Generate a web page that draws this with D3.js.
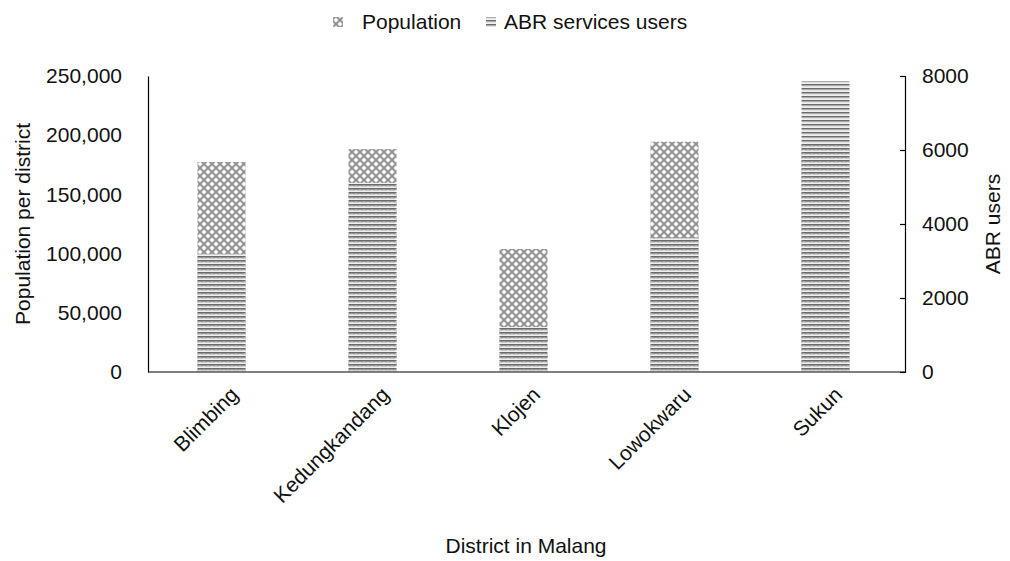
<!DOCTYPE html>
<html>
<head>
<meta charset="utf-8">
<script src="https://cdn.jsdelivr.net/npm/d3@7"></script>
<style>
  body { margin: 0; background: #fff; }
  svg { display: block; }
  text { font-family: "Liberation Sans", Arial, sans-serif; fill: #111; }
</style>
</head>
<body>
<svg id="chart" width="1010" height="561"></svg>
<script>
// Districts of Malang city
const districts = ["Blimbing", "Kedungkandang", "Klojen", "Lowokwaru", "Sukun"];
// Residents per district (left axis)
const population = [177400, 188300, 103900, 194500, 192000];
// ABR service users per district (right axis)
const abrUsers = [3190, 5115, 1215, 3640, 7865];

const popTicks = [0, 50000, 100000, 150000, 200000, 250000];
const abrTicks = [0, 2000, 4000, 6000, 8000];

const svg = d3.select("#chart");
const margin = { left: 148, right: 105, top: 76, bottom: 189 };
const W = 1010, H = 561;
const plotRight = W - margin.right;
const plotBottom = H - margin.bottom;
const FONT = "'Liberation Sans', Arial, sans-serif";

// Fill patterns
const defs = svg.append("defs");
const dots = defs.append("pattern")
  .attr("id", "popPattern").attr("patternUnits", "userSpaceOnUse")
  .attr("width", 8).attr("height", 8);
dots.append("rect").attr("width", 8).attr("height", 8).attr("fill", "#c4c4c4");
dots.append("path").attr("d", "M0,0L8,8M8,0L0,8")
  .attr("stroke", "#8c8c8c").attr("stroke-width", 1.4);
[[4, 0], [4, 8], [0, 4], [8, 4]].forEach(([cx, cy]) =>
  dots.append("circle").attr("cx", cx).attr("cy", cy).attr("r", 1.7).attr("fill", "#fff"));

const stripes = defs.append("pattern")
  .attr("id", "abrPattern").attr("patternUnits", "userSpaceOnUse")
  .attr("width", 8).attr("height", 4);
[["#6a6a6a", 0, 1.5], ["#a4a4a4", 1.5, 1], ["#f0f0f0", 2.5, 1.5]].forEach(([c, y, h]) =>
  stripes.append("rect").attr("x", 0).attr("y", y).attr("width", 8).attr("height", h).attr("fill", c));

// Scales
const x = d3.scaleBand().domain(districts).range([margin.left - 2, plotRight - 4]);
const barW = 48;
const yPop = d3.scaleLinear().domain([0, 250000]).range([plotBottom, margin.top]);
const yAbr = d3.scaleLinear().domain([0, 8000]).range([plotBottom, margin.top]);

// Population bars (behind)
svg.append("g").selectAll("rect").data(districts).join("rect")
  .attr("x", d => x(d) + x.bandwidth() / 2 - barW / 2)
  .attr("width", barW)
  .attr("y", (d, i) => yPop(population[i]))
  .attr("height", (d, i) => plotBottom - yPop(population[i]))
  .attr("fill", "url(#popPattern)");

// ABR user bars (front)
svg.append("g").selectAll("rect").data(districts).join("rect")
  .attr("x", d => x(d) + x.bandwidth() / 2 - barW / 2)
  .attr("width", barW)
  .attr("y", (d, i) => yAbr(abrUsers[i]))
  .attr("height", (d, i) => plotBottom - yAbr(abrUsers[i]))
  .attr("fill", "url(#abrPattern)");

// Left axis
const gL = svg.append("g").attr("transform", `translate(${margin.left},0)`)
  .call(d3.axisLeft(yPop).tickValues(popTicks).tickFormat(d3.format(",")).tickSize(0).tickPadding(26));
gL.select(".domain").attr("stroke", "#000").attr("stroke-width", 1.2);
gL.selectAll("text").attr("font-size", 21).attr("fill", "#111").attr("font-family", FONT);

// Right axis
const gR = svg.append("g").attr("transform", `translate(${plotRight},0)`)
  .call(d3.axisRight(yAbr).tickValues(abrTicks).tickFormat(d3.format("d"))
    .tickSizeInner(-5).tickSizeOuter(-5).tickPadding(17));
gR.select(".domain").attr("stroke", "#000").attr("stroke-width", 1.2);
gR.selectAll("line").attr("stroke", "#000").attr("stroke-width", 1.2);
gR.selectAll("text").attr("font-size", 21).attr("fill", "#111").attr("font-family", FONT);

// Bottom axis
const gB = svg.append("g").attr("transform", `translate(0,${plotBottom})`)
  .call(d3.axisBottom(x).tickSize(0).tickPadding(0));
gB.select(".domain").attr("d", `M${margin.left},0H${plotRight}`).attr("stroke", "#000").attr("stroke-width", 1.2);
gB.selectAll("text")
  .attr("font-size", 21).attr("fill", "#111").attr("font-family", FONT)
  .attr("text-anchor", "end")
  .attr("dy", 0)
  .attr("transform", "translate(18,24) rotate(-45)");

// Axis titles
svg.append("text").attr("transform", `translate(30,${(margin.top + plotBottom) / 2}) rotate(-90)`)
  .attr("text-anchor", "middle").attr("font-size", 21).text("Population per district");
svg.append("text").attr("transform", `translate(1000,${(margin.top + plotBottom) / 2}) rotate(-90)`)
  .attr("text-anchor", "middle").attr("font-size", 21).text("ABR users");
svg.append("text").attr("x", 526).attr("y", 553)
  .attr("text-anchor", "middle").attr("font-size", 21).text("District in Malang");

// Legend
const legend = [
  { label: "Population", fill: "url(#popPattern)", x: 333, gap: 29 },
  { label: "ABR services users", fill: "url(#abrPattern)", x: 486, gap: 18 }
];
const lg = svg.append("g");
legend.forEach(l => {
  lg.append("rect").attr("x", l.x).attr("y", 17).attr("width", 10).attr("height", 10).attr("fill", l.fill);
  lg.append("text").attr("x", l.x + l.gap).attr("y", 29).attr("font-size", 21).text(l.label);
});
</script>
</body>
</html>
